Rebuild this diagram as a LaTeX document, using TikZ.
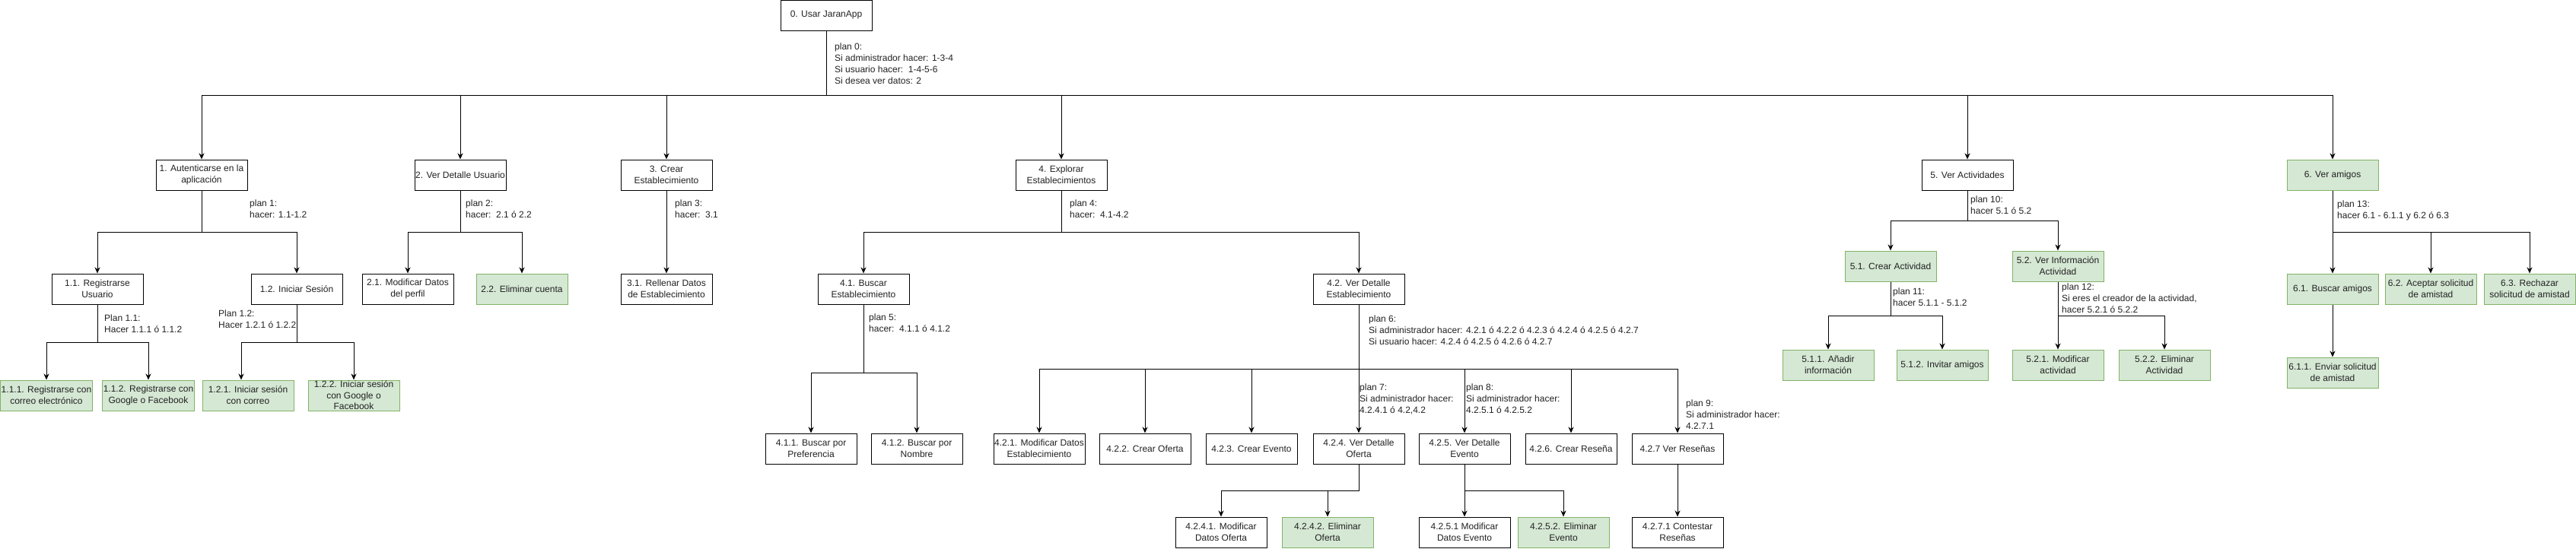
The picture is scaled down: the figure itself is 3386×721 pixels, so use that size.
\documentclass[tikz,border=0pt]{standalone}
\usepackage{fontspec}
\setmainfont{Liberation Sans}
\usetikzlibrary{arrows.meta}
\definecolor{gfill}{HTML}{D5E8D4}
\definecolor{gstroke}{HTML}{82B366}
\definecolor{txt}{HTML}{222222}
\tikzset{
  box/.style={draw=black, line width=1pt, fill=white, minimum width=120pt, minimum height=40pt,
    inner sep=1pt, align=center, font=\fontsize{12}{15}\selectfont, text=txt},
  gbox/.style={box, draw=gstroke, fill=gfill},
  plan/.style={anchor=north west, align=left, inner sep=0pt, font=\fontsize{12}{15}\selectfont, text=txt},
  edge/.style={draw=black, line width=1pt, -{Stealth[length=8pt,width=7pt,inset=2.5pt]}}
}
\begin{document}
\begin{tikzpicture}[x=1pt,y=-1pt]
\fill[white] (0,0) rectangle (3386,721);
\useasboundingbox (0,0) rectangle (3386,721);

% level 0
\node[box] (n0) at (1086,20) {0. Usar JaranApp};

% level 1
\node[box] (n1) at (265,230) {1. Autenticarse en la\\aplicación};
\node[box] (n2) at (605,230) {2. Ver Detalle Usuario};
\node[box] (n3) at (876,230) {3. Crear\\Establecimiento};
\node[box] (n4) at (1395,230) {4. Explorar\\Establecimientos};
\node[box] (n5) at (2586,230) {5. Ver Actividades};
\node[gbox] (n6) at (3066,230) {6. Ver amigos};

% level 2
\node[box] (n11) at (128,380) {1.1. Registrarse\\Usuario};
\node[box] (n12) at (390,380) {1.2. Iniciar Sesión};
\node[box] (n21) at (536,380) {2.1. Modificar Datos\\del perfil};
\node[gbox] (n22) at (686,380) {2.2. Eliminar cuenta};
\node[box] (n31) at (876,380) {3.1. Rellenar Datos\\de Establecimiento};
\node[box] (n41) at (1135,380) {4.1. Buscar\\Establecimiento};
\node[box] (n42) at (1786,380) {4.2. Ver Detalle\\Establecimiento};
\node[gbox] (n51) at (2485,350) {5.1. Crear Actividad};
\node[gbox] (n52) at (2705,350) {5.2. Ver Información\\Actividad};
\node[gbox] (n61) at (3066,380) {6.1. Buscar amigos};
\node[gbox] (n62) at (3195,380) {6.2. Aceptar solicitud\\de amistad};
\node[gbox] (n63) at (3325,380) {6.3. Rechazar\\solicitud de amistad};

% level 3
\node[gbox] (n111) at (61,520) {1.1.1. Registrarse con\\correo electrónico};
\node[gbox] (n112) at (195,520) {1.1.2. Registrarse con\\Google o Facebook};
\node[gbox] (n121) at (326,520) {1.2.1. Iniciar sesión\\con correo};
\node[gbox, inner ysep=0pt, font=\fontsize{12}{14.5}\selectfont] (n122) at (465,520) {1.2.2. Iniciar sesión\\con Google o\\Facebook};
\node[box] (n411) at (1066,590) {4.1.1. Buscar por\\Preferencia};
\node[box] (n412) at (1205,590) {4.1.2. Buscar por\\Nombre};
\node[box] (n421) at (1366,590) {4.2.1. Modificar Datos\\Establecimiento};
\node[box] (n422) at (1505,590) {4.2.2. Crear Oferta};
\node[box] (n423) at (1645,590) {4.2.3. Crear Evento};
\node[box] (n424) at (1786,590) {4.2.4. Ver Detalle\\Oferta};
\node[box] (n425) at (1925,590) {4.2.5. Ver Detalle\\Evento};
\node[box] (n426) at (2065,590) {4.2.6. Crear Reseña};
\node[box] (n427) at (2205,590) {4.2.7 Ver Reseñas};
\node[gbox] (n511) at (2403,480) {5.1.1. Añadir\\información};
\node[gbox] (n512) at (2553,480) {5.1.2. Invitar amigos};
\node[gbox] (n521) at (2705,480) {5.2.1. Modificar\\actividad};
\node[gbox] (n522) at (2845,480) {5.2.2. Eliminar\\Actividad};
\node[gbox] (n611) at (3066,490) {6.1.1. Enviar solicitud\\de amistad};

% level 4
\node[box] (n4241) at (1605,700) {4.2.4.1. Modificar\\Datos Oferta};
\node[gbox] (n4242) at (1745,700) {4.2.4.2. Eliminar\\Oferta};
\node[box] (n4251) at (1925,700) {4.2.5.1 Modificar\\Datos Evento};
\node[gbox] (n4252) at (2055,700) {4.2.5.2. Eliminar\\Evento};
\node[box] (n4271) at (2205,700) {4.2.7.1 Contestar\\Reseñas};

% plans
\node[plan] (p0) at (1097,57) {plan 0:\\Si administrador hacer: 1-3-4\\Si usuario hacer:\ \ 1-4-5-6\\Si desea ver datos: 2};
\node[plan] (p1) at (328,263) {plan 1:\\hacer: 1.1-1.2};
\node[plan] (p11) at (137,414) {Plan 1.1:\\Hacer 1.1.1 ó 1.1.2};
\node[plan] (p12) at (287,408) {Plan 1.2:\\Hacer 1.2.1 ó 1.2.2};
\node[plan] (p2) at (612,263) {plan 2:\\hacer:\ \ 2.1 ó 2.2};
\node[plan] (p3) at (887,263) {plan 3:\\hacer:\ \ 3.1};
\node[plan] (p4) at (1406,263) {plan 4:\\hacer:\ \ 4.1-4.2};
\node[plan] (p5) at (1142,413) {plan 5:\\hacer:\ \ 4.1.1 ó 4.1.2};
\node[plan] (p6) at (1799,415) {plan 6:\\Si administrador hacer: 4.2.1 ó 4.2.2 ó 4.2.3 ó 4.2.4 ó 4.2.5 ó 4.2.7\\Si usuario hacer: 4.2.4 ó 4.2.5 ó 4.2.6 ó 4.2.7};
\node[plan] (p7) at (1787,505) {plan 7:\\Si administrador hacer:\\4.2.4.1 ó 4.2,4.2};
\node[plan] (p8) at (1927,505) {plan 8:\\Si administrador hacer:\\4.2.5.1 ó 4.2.5.2};
\node[plan] (p9) at (2216,526) {plan 9:\\Si administrador hacer:\\4.2.7.1};
\node[plan] (p10) at (2590,258) {plan 10:\\hacer 5.1 ó 5.2};
\node[plan] (p11b) at (2488,379) {plan 11:\\hacer 5.1.1 - 5.1.2};
\node[plan] (p12b) at (2710,373) {plan 12:\\Si eres el creador de la actividad,\\hacer 5.2.1 ó 5.2.2};
\node[plan] (p13) at (3072,264) {plan 13:\\hacer 6.1 - 6.1.1 y 6.2 ó 6.3};

% edges
\foreach \c in {n1,n2,n3,n4,n5,n6}
  \draw[edge] (n0.south) -- (n0.south |- 0,125) -| (\c.north);
\foreach \c in {n11,n12}
  \draw[edge] (n1.south) -- (n1.south |- 0,305) -| (\c.north);
\foreach \c in {n111,n112}
  \draw[edge] (n11.south) -- (n11.south |- 0,450) -| (\c.north);
\draw[edge] (n12.south) -- (n12.south |- 0,450) -| ([xshift=-9pt]n121.north);
\draw[edge] (n12.south) -- (n12.south |- 0,450) -| (n122.north);
\foreach \c in {n21,n22}
  \draw[edge] (n2.south) -- (n2.south |- 0,305) -| (\c.north);
\draw[edge] (n3.south) -- (n31.north);
\foreach \c in {n41,n42}
  \draw[edge] (n4.south) -- (n4.south |- 0,305) -| (\c.north);
\foreach \c in {n411,n412}
  \draw[edge] (n41.south) -- (n41.south |- 0,490) -| (\c.north);
\foreach \c in {n421,n422,n423,n424,n425,n426,n427}
  \draw[edge] (n42.south) -- (n42.south |- 0,485) -| (\c.north);
\foreach \c in {n4241,n4242}
  \draw[edge] (n424.south) -- (n424.south |- 0,645) -| (\c.north);
\foreach \c in {n4251,n4252}
  \draw[edge] (n425.south) -- (n425.south |- 0,645) -| (\c.north);
\draw[edge] (n427.south) -- (n4271.north);
\foreach \c in {n51,n52}
  \draw[edge] (n5.south) -- (n5.south |- 0,290) -| (\c.north);
\foreach \c in {n511,n512}
  \draw[edge] (n51.south) -- (n51.south |- 0,415) -| (\c.north);
\foreach \c in {n521,n522}
  \draw[edge] (n52.south) -- (n52.south |- 0,415) -| (\c.north);
\foreach \c in {n61,n62,n63}
  \draw[edge] (n6.south) -- (n6.south |- 0,305) -| (\c.north);
\draw[edge] (n61.south) -- (n611.north);
\end{tikzpicture}
\end{document}
